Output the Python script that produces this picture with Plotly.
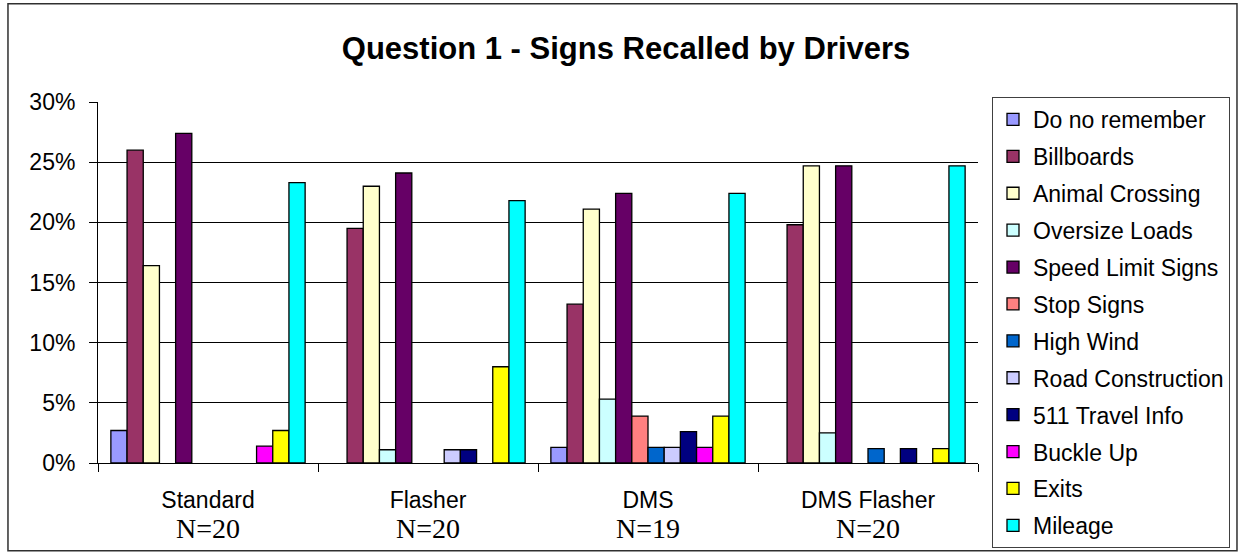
import plotly.graph_objects as go

categories = ["Standard", "Flasher", "DMS", "DMS Flasher"]
sample_sizes = ["N=20", "N=20", "N=19", "N=20"]

series_names = [
    "Do no remember", "Billboards", "Animal Crossing", "Oversize Loads",
    "Speed Limit Signs", "Stop Signs", "High Wind", "Road Construction",
    "511 Travel Info", "Buckle Up", "Exits", "Mileage",
]

# percent of responses, per group: Standard, Flasher, DMS, DMS Flasher
do_no_remember = [2.7, 0, 1.3, 0]
billboards = [26.0, 19.5, 13.2, 19.8]
animal_crossing = [16.4, 23.0, 21.1, 24.7]
oversize_loads = [0, 1.1, 5.3, 2.5]
speed_limit_signs = [27.4, 24.1, 22.4, 24.7]
stop_signs = [0, 0, 3.9, 0]
high_wind = [0, 0, 1.3, 1.2]
road_construction = [0, 1.1, 1.3, 0]
travel_info_511 = [0, 1.1, 2.6, 1.2]
buckle_up = [1.4, 0, 1.3, 0]
exits = [2.7, 8.0, 3.9, 1.2]
mileage = [23.3, 21.8, 22.4, 24.7]

series_values = [
    do_no_remember, billboards, animal_crossing, oversize_loads,
    speed_limit_signs, stop_signs, high_wind, road_construction,
    travel_info_511, buckle_up, exits, mileage,
]

colors = [
    "#9999FF", "#993366", "#FFFFCC", "#CCFFFF", "#660066", "#FF8080",
    "#0066CC", "#CCCCFF", "#000080", "#FF00FF", "#FFFF00", "#00FFFF",
]

y_tickvals = [0, 5, 10, 15, 20, 25, 30]

FONT = "Arial, Liberation Sans, sans-serif"
SERIF = "Liberation Serif, Times New Roman, serif"

tick_text = [
    f'{c}<br><span style="font-family:{SERIF};font-size:28px">{n}</span>'
    for c, n in zip(categories, sample_sizes)
]

fig = go.Figure()
for name, vals, col in zip(series_names, series_values, colors):
    fig.add_trace(go.Bar(
        x=categories,
        y=[v if v != 0 else None for v in vals],
        name=name,
        legendgroup=name,
        marker=dict(color=col, line=dict(color="#000000", width=1.3)),
    ))

fig.update_layout(
    width=1238, height=552,
    margin=dict(l=98, r=260, t=102, b=89, autoexpand=False),
    paper_bgcolor="white", plot_bgcolor="white",
    barmode="group", bargap=0.117, bargroupgap=0,
    font=dict(family=FONT, size=23, color="#000000"),
    title=dict(
        text="<b>Question 1 - Signs Recalled by Drivers</b>",
        x=0.5057, xref="container", xanchor="center",
        y=0.913, yref="container", yanchor="middle",
        font=dict(family=FONT, size=31, color="#000000"),
    ),
    legend=dict(
        x=1.0159, xref="paper", xanchor="left",
        y=1.0139, yref="paper", yanchor="top",
        bordercolor="#404040", borderwidth=1,
        bgcolor="white",
        font=dict(family=FONT, size=23, color="#000000"),
        tracegroupgap=4,
        traceorder="grouped",
        maxheight=520,
    ),
    showlegend=True,
)

fig.update_yaxes(
    range=[0, 30],
    tickvals=y_tickvals,
    ticktext=[f"{v}%" for v in y_tickvals],
    showgrid=True, gridcolor="#000000", gridwidth=1,
    showline=True, linecolor="#000000", linewidth=1,
    ticks="outside", ticklen=8, tickcolor="#000000",
    ticklabelstandoff=9,
    zeroline=False, automargin=False,
    tickfont=dict(family=FONT, size=23),
)
fig.update_xaxes(
    tickvals=categories, ticktext=tick_text,
    showline=True, linecolor="#000000", linewidth=1,
    ticks="outside", ticklen=8, tickcolor="#000000",
    tickson="boundaries",
    ticklabelstandoff=16,
    showgrid=False, automargin=False,
    tickfont=dict(family=FONT, size=23),
)

# outer chart frame
fig.add_shape(
    type="rect", xref="paper", yref="paper",
    x0=-0.1023, x1=1.2943, y0=-0.2429, y1=1.2723,
    line=dict(color="#303030", width=1.5), layer="below",
)

fig.write_html(
    "out.html",
    config={"displayModeBar": False},
    post_script="document.body.style.margin='0';document.body.style.padding='0';",
)
